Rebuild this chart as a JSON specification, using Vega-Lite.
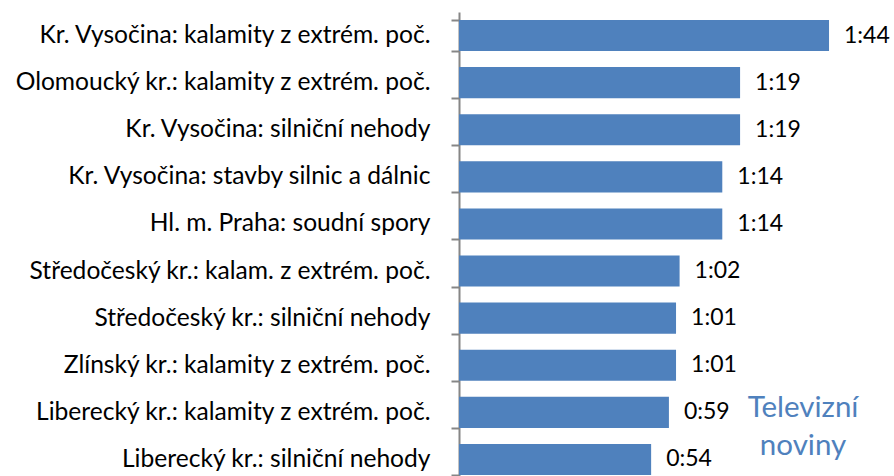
{
  "$schema": "https://vega.github.io/schema/vega-lite/v6.json",
  "autosize": {"type": "none"},
  "width": 435,
  "height": 471,
  "padding": {"top": 12, "left": 459, "right": 0, "bottom": 0},
  "background": "white",
  "config": {"view": {"stroke": null}, "font": "Lato"},
  "data": {"values": [
    {"cat": "Kr. Vysočina: kalamity z extrém. poč.", "sec": 104, "t": "1:44"},
    {"cat": "Olomoucký kr.: kalamity z extrém. poč.", "sec": 79, "t": "1:19"},
    {"cat": "Kr. Vysočina: silniční nehody", "sec": 79, "t": "1:19"},
    {"cat": "Kr. Vysočina: stavby silnic a dálnic", "sec": 74, "t": "1:14"},
    {"cat": "Hl. m. Praha: soudní spory", "sec": 74, "t": "1:14"},
    {"cat": "Středočeský kr.: kalam. z extrém. poč.", "sec": 62, "t": "1:02"},
    {"cat": "Středočeský kr.: silniční nehody", "sec": 61, "t": "1:01"},
    {"cat": "Zlínský kr.: kalamity z extrém. poč.", "sec": 61, "t": "1:01"},
    {"cat": "Liberecký kr.: kalamity z extrém. poč.", "sec": 59, "t": "0:59"},
    {"cat": "Liberecký kr.: silniční nehody", "sec": 54, "t": "0:54"}
  ]},
  "encoding": {
    "y": {"field": "cat", "type": "nominal", "sort": null,
      "scale": {"paddingInner": 0.34, "paddingOuter": 0.17},
      "axis": {"title": null, "domainColor": "#868686", "domainWidth": 2, "tickColor": "#868686", "tickWidth": 2, "tickSize": 8, "labelPadding": 21, "labelFontSize": 24.6, "labelColor": "#000000", "labelFont": "Lato", "labelLimit": 500, "tickBand": "extent"}},
    "x": {"field": "sec", "type": "quantitative", "scale": {"domain": [0, 122.26]}, "axis": null}
  },
  "layer": [
    {"mark": {"type": "bar", "color": "#4f81bd"}},
    {"mark": {"type": "text", "align": "left", "dx": 15, "fontSize": 23, "color": "#000000"}, "encoding": {"text": {"field": "t"}}},
    {"data": {"values": [{"lab": ["Televizní", "noviny"], "cat": "Liberecký kr.: kalamity z extrém. poč.", "sec": 96.7}]},
     "mark": {"type": "text", "align": "center", "baseline": "top", "dy": -18, "fontSize": 29.5, "color": "#4f81bd", "lineHeight": 38},
     "encoding": {"text": {"field": "lab"}, "y": {"field": "cat", "type": "nominal", "sort": null}, "x": {"field": "sec", "type": "quantitative"}}}
  ]
}
